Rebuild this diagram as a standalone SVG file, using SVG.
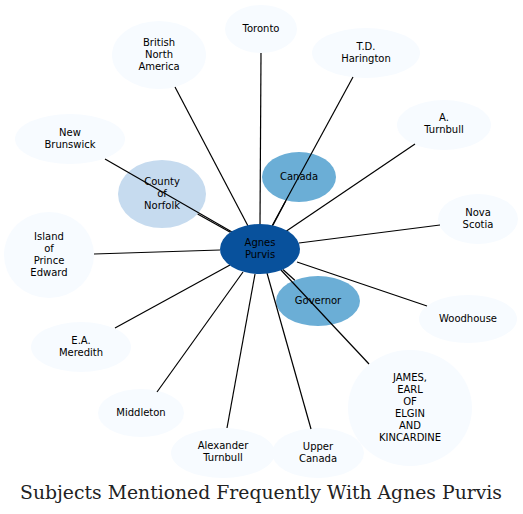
<svg xmlns="http://www.w3.org/2000/svg" width="523" height="514" viewBox="0 0 523 514">
<style>
.n0{fill:#f7fbff}
.n1{fill:#c6dbef}
.n2{fill:#6baed6}
.n3{fill:#08519c}
text{font-family:"DejaVu Sans",sans-serif;font-size:10px;fill:#000;text-anchor:middle}
.title{font-family:"DejaVu Serif",serif;font-size:18.5px;fill:#222}
#edges line{stroke:#000;stroke-width:1.2}
</style>
<rect width="523" height="514" fill="#fff"/>
<g id="node-toronto"><ellipse class="n0" cx="261" cy="29" rx="36" ry="24"/><text x="261" y="32">Toronto</text></g>
<g id="node-bna"><ellipse class="n0" cx="159" cy="55" rx="47" ry="34"/><text x="159" y="46">British</text><text x="159" y="58">North</text><text x="159" y="70">America</text></g>
<g id="node-harington"><ellipse class="n0" cx="366" cy="53" rx="54" ry="25"/><text x="366" y="50">T.D.</text><text x="366" y="62">Harington</text></g>
<g id="node-newbrunswick"><ellipse class="n0" cx="70" cy="139" rx="55" ry="25"/><text x="70" y="136">New</text><text x="70" y="148">Brunswick</text></g>
<g id="node-norfolk"><ellipse class="n1" cx="162" cy="194" rx="44" ry="34"/><text x="162" y="185">County</text><text x="162" y="197">of</text><text x="162" y="209">Norfolk</text></g>
<g id="node-aturnbull"><ellipse class="n0" cx="444" cy="125" rx="47" ry="25"/><text x="444" y="121">A.</text><text x="444" y="133">Turnbull</text></g>
<g id="node-canada"><ellipse class="n2" cx="299" cy="177" rx="37" ry="25"/><text x="299" y="180">Canada</text></g>
<g id="node-novascotia"><ellipse class="n0" cx="478" cy="219" rx="40" ry="25"/><text x="478" y="216">Nova</text><text x="478" y="228">Scotia</text></g>
<g id="node-pei"><ellipse class="n0" cx="49" cy="255" rx="45" ry="43"/><text x="49" y="240">Island</text><text x="49" y="252">of</text><text x="49" y="264">Prince</text><text x="49" y="276">Edward</text></g>
<g id="node-meredith"><ellipse class="n0" cx="81" cy="347" rx="50" ry="25"/><text x="81" y="344">E.A.</text><text x="81" y="356">Meredith</text></g>
<g id="node-governor"><ellipse class="n2" cx="318" cy="301" rx="42" ry="25"/><text x="318" y="304">Governor</text></g>
<g id="node-woodhouse"><ellipse class="n0" cx="468" cy="319" rx="49" ry="24"/><text x="468" y="322">Woodhouse</text></g>
<g id="node-middleton"><ellipse class="n0" cx="141" cy="413" rx="43" ry="24"/><text x="141" y="416">Middleton</text></g>
<g id="node-alexturnbull"><ellipse class="n0" cx="223" cy="453" rx="52" ry="25"/><text x="223" y="449">Alexander</text><text x="223" y="461">Turnbull</text></g>
<g id="node-uppercanada"><ellipse class="n0" cx="318" cy="453" rx="46" ry="25"/><text x="318" y="450">Upper</text><text x="318" y="462">Canada</text></g>
<g id="node-james"><ellipse class="n0" cx="410" cy="408" rx="62" ry="58"/><text x="410" y="381">JAMES,</text><text x="410" y="393">EARL</text><text x="410" y="405">OF</text><text x="410" y="417">ELGIN</text><text x="410" y="429">AND</text><text x="410" y="441">KINCARDINE</text></g>
<g id="edges">
<line x1="261" y1="53" x2="260" y2="224"/>
<line x1="175" y1="87" x2="248" y2="226"/>
<line x1="353" y1="77" x2="272" y2="226"/>
<line x1="286" y1="200.5" x2="272.8" y2="225.4"/>
<line x1="105" y1="159" x2="232" y2="232"/>
<line x1="197.6" y1="214" x2="230.3" y2="232.3"/>
<line x1="415" y1="144" x2="285" y2="232"/>
<line x1="440" y1="225" x2="299" y2="243"/>
<line x1="94" y1="254" x2="220" y2="250"/>
<line x1="115" y1="328" x2="230" y2="265"/>
<line x1="157" y1="392" x2="243" y2="272"/>
<line x1="227" y1="428" x2="255" y2="274"/>
<line x1="311" y1="429" x2="267" y2="273"/>
<line x1="369" y1="364" x2="281" y2="270"/>
<line x1="294.8" y1="280.2" x2="282.9" y2="269.5"/>
<line x1="427" y1="306" x2="297" y2="262"/>
</g>
<g id="node-agnes"><ellipse class="n3" cx="260" cy="249" rx="40" ry="25"/><text x="260" y="246">Agnes</text><text x="260" y="258">Purvis</text></g>
<text class="title" x="261" y="499" textLength="482" lengthAdjust="spacingAndGlyphs">Subjects Mentioned Frequently With Agnes Purvis</text>
</svg>
